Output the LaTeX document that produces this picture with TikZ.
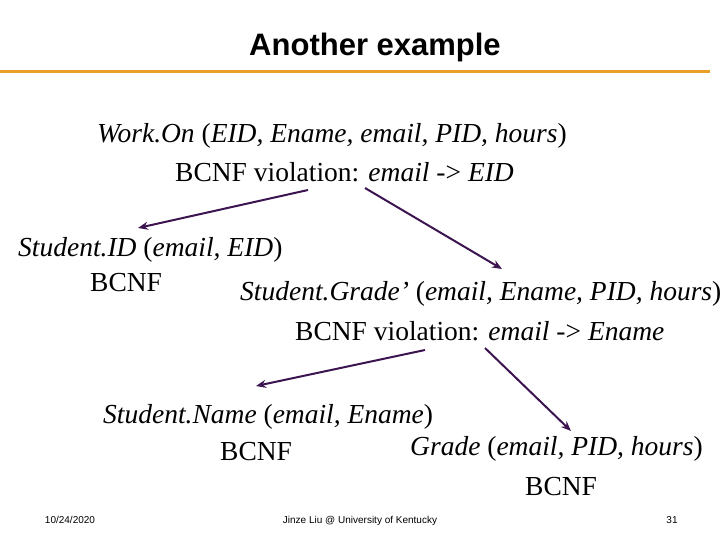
\documentclass[tikz,border=0pt]{standalone}
\usepackage{fontspec}
\usetikzlibrary{arrows.meta}
\setmainfont{Liberation Serif}
\newfontfamily\arialfont{Liberation Sans}
\definecolor{rulecol}{RGB}{232,160,40}
\definecolor{arrcol}{RGB}{60,20,80}
\begin{document}
\begin{tikzpicture}[x=1pt,y=-1pt,
  txt/.style={anchor=base west,inner sep=0pt,font=\fontsize{27.5}{32}\selectfont},
  foot/.style={anchor=base,inner sep=0pt,font=\arialfont\fontsize{10}{12}\selectfont},
  splitarrow/.style={draw=arrcol,line width=2pt,-{Stealth[length=10pt,width=8pt]}}]
\useasboundingbox (0,0) rectangle (720,540);
\clip (0,0) rectangle (720,540);
\node[anchor=base,inner sep=0pt,font=\arialfont\bfseries\fontsize{31}{36}\selectfont] (title) at (375,56) {Another example};
\draw[rulecol,line width=3pt] (0,72) -- (710,72);
% relation and its split
\node[txt] (workon) at (97,143) {\itshape Work.On \upshape(\itshape EID, Ename, email, PID, hours\upshape)};
\node[txt] (viol1) at (175,182) {BCNF violation: \textit{email} -> \textit{EID}};
\node[txt] (sid) at (18,256) {\itshape Student.ID \upshape(\itshape email, EID\upshape)};
\node[txt] (sidbcnf) at (90,291) {BCNF};
\node[txt] (sgrade) at (240,300) {\itshape Student.Grade’ \upshape(\itshape email, Ename, PID, hours\upshape)};
\node[txt] (viol2) at (295,340) {BCNF violation: \textit{email} -> \textit{Ename}};
\node[txt] (sname) at (103,423) {\itshape Student.Name \upshape(\itshape email, Ename\upshape)};
\node[txt] (snamebcnf) at (220,460) {BCNF};
\node[txt] (grade) at (410,455) {\itshape Grade \upshape(\itshape email, PID, hours\upshape)};
\node[txt] (gradebcnf) at (525,495) {BCNF};
\coordinate (a1s) at (308,190); \coordinate (a1e) at (138,228);
\coordinate (a2s) at (365,188); \coordinate (a2e) at (502,269);
\coordinate (a3s) at (425,350); \coordinate (a3e) at (256,386);
\coordinate (a4s) at (485,348); \coordinate (a4e) at (571,431);
\draw[splitarrow] (a1s) -- (a1e);
\draw[splitarrow] (a2s) -- (a2e);
\draw[splitarrow] (a3s) -- (a3e);
\draw[splitarrow] (a4s) -- (a4e);
% footer
\node[foot] (date) at (70,523) {10/24/2020};
\node[foot] (author) at (360,523) {Jinze Liu @ University of Kentucky};
\node[foot] (page) at (672,523) {31};
\end{tikzpicture}
\end{document}
